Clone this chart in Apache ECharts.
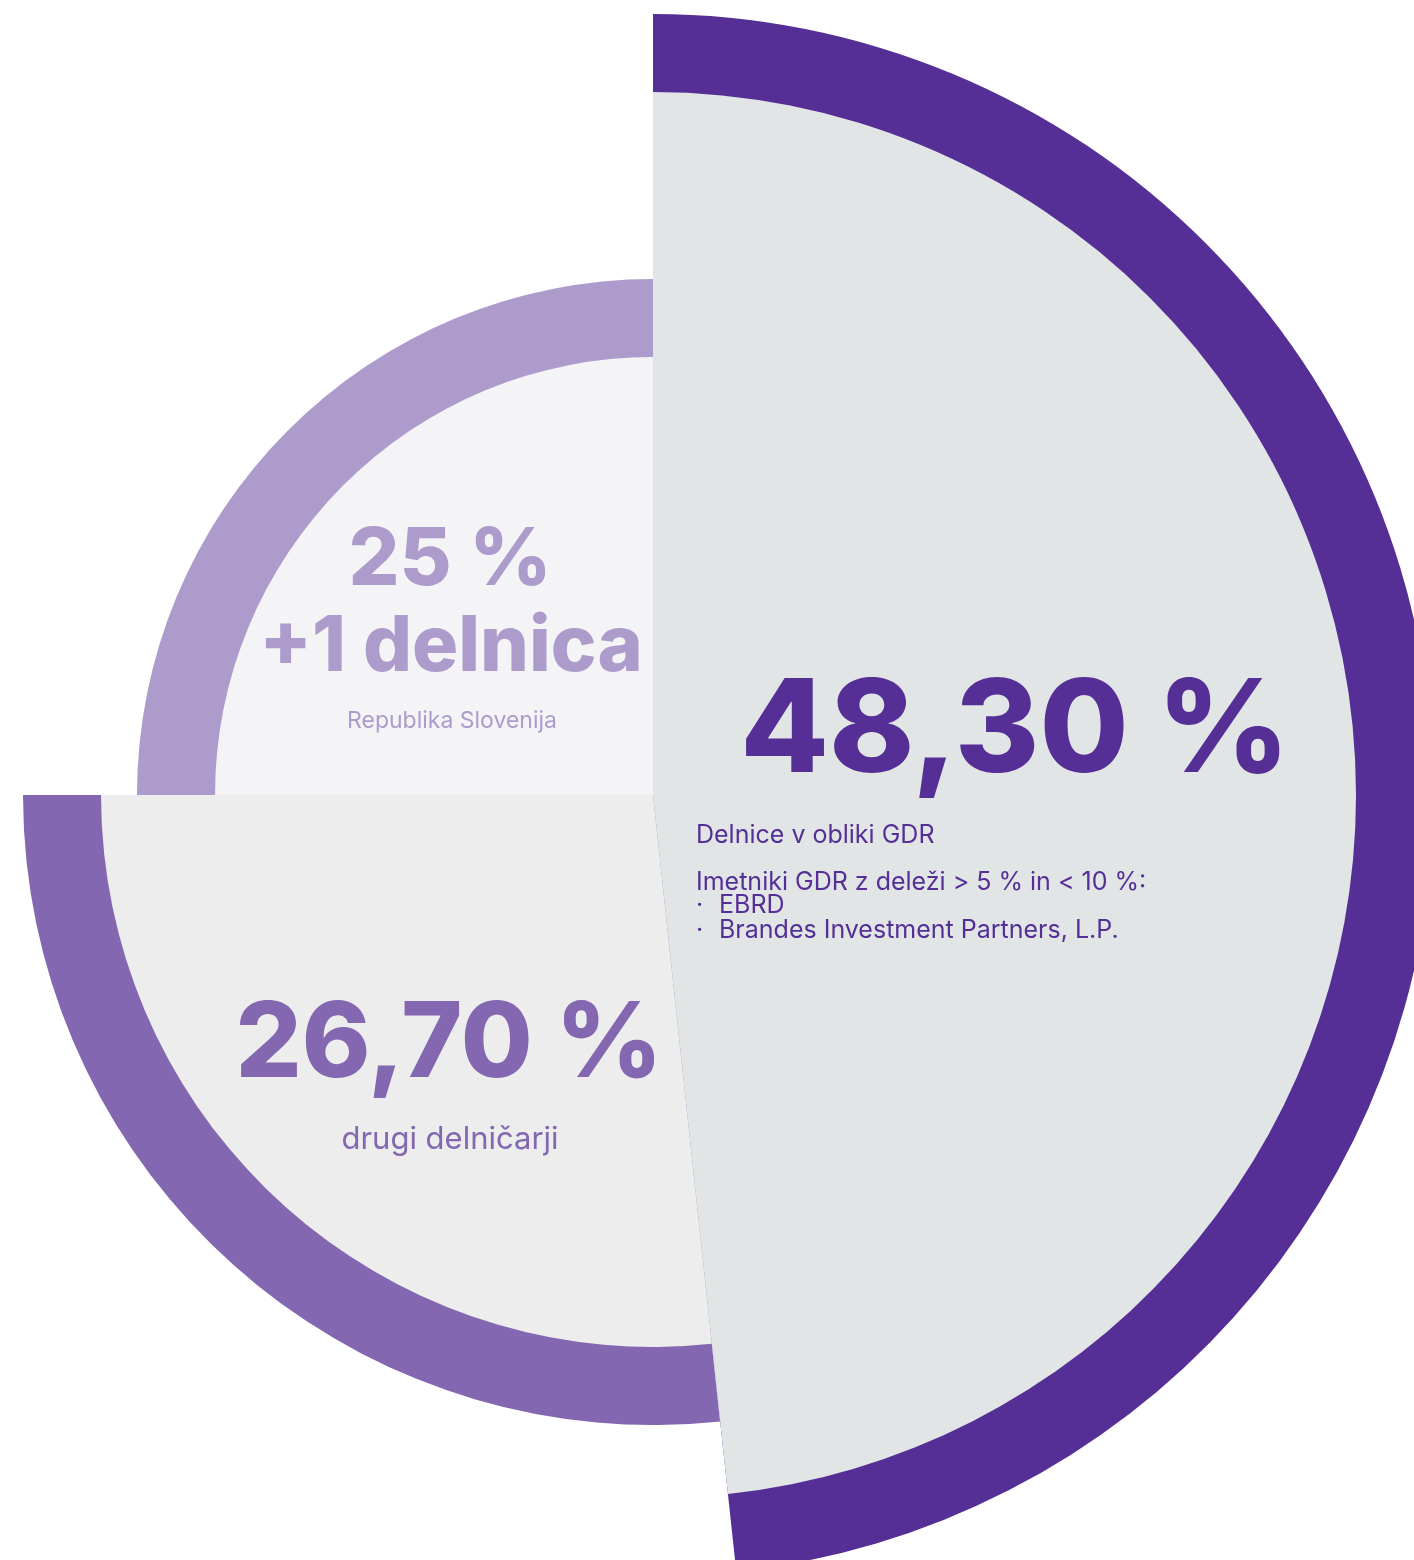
<!DOCTYPE html>
<html>
<head>
<meta charset="utf-8">
<script src="https://cdn.jsdelivr.net/npm/echarts@6/dist/echarts.min.js"></script>
<style>
  html, body { margin: 0; padding: 0; background: #fff; }
  #graf { width: 1414px; height: 1560px; }
</style>
</head>
<body>
<div id="graf"></div>
<script>
// podatki
const kategorije = ['Delnice v obliki GDR', 'drugi delničarji', 'Republika Slovenija'];
const delezi = [48.3, 26.7, 25];
const oznake = ['48,30 %', '26,70 %', '25 %'];

const barveObroc = ['#552F96', '#8367B0', '#AD9BCC'];
const barvePolnilo = ['#E1E5E6', '#EDEDED', '#F4F4F7'];
const polmeri = [781, 630, 516];
const debelina = 78;
const sredisce = [653, 795];
const pisava = 'Inter, "Open Sans", sans-serif';

// vsak kos je svoja pita, ostali kosi so prozorni, da koti ostanejo enaki
function pita(i, r, barva) {
    return {
        type: 'pie',
        center: sredisce,
        radius: [0, r],
        startAngle: 90,
        clockwise: true,
        silent: true,
        animation: false,
        label: { show: false },
        labelLine: { show: false },
        emphasis: { disabled: true },
        data: delezi.map((v, j) => ({
            name: kategorije[j],
            value: v,
            itemStyle: j === i
                ? { color: barva, borderWidth: 0 }
                : { color: 'rgba(0,0,0,0)', borderWidth: 0 }
        }))
    };
}

const serije = [];
delezi.forEach((v, i) => serije.push(pita(i, polmeri[i], barveObroc[i])));
delezi.forEach((v, i) => serije.push(pita(i, polmeri[i] - debelina, barvePolnilo[i])));

function besedilo(x, y, t, size, weight, barva, align) {
    return {
        type: 'text', x: x, y: y, z: 100,
        style: {
            text: t, fill: barva,
            font: weight + ' ' + size + 'px ' + pisava,
            textAlign: align || 'center', textVerticalAlign: 'middle'
        }
    };
}

const chart = echarts.init(document.getElementById('graf'), null, { renderer: 'canvas' });
chart.setOption({
    backgroundColor: '#ffffff',
    series: serije,
    graphic: [
        besedilo(1015, 733, oznake[0], 129, 800, barveObroc[0]),
        besedilo(696, 835, kategorije[0], 25, 400, barveObroc[0], 'left'),
        besedilo(696, 882, 'Imetniki GDR z deleži > 5 % in < 10 %:', 25, 400, barveObroc[0], 'left'),
        besedilo(696, 905, '·', 25, 400, barveObroc[0], 'left'),
        besedilo(719, 905, 'EBRD', 25, 400, barveObroc[0], 'left'),
        besedilo(696, 930, '·', 25, 400, barveObroc[0], 'left'),
        besedilo(719, 930, 'Brandes Investment Partners, L.P.', 25, 400, barveObroc[0], 'left'),
        besedilo(449, 1046, oznake[1], 104, 800, barveObroc[1]),
        besedilo(450, 1140, kategorije[1], 31, 400, barveObroc[1]),
        besedilo(450, 561, oznake[2], 80, 800, barveObroc[2]),
        besedilo(451, 648, '+1 delnica', 77, 800, barveObroc[2]),
        besedilo(452, 721, kategorije[2], 23, 400, barveObroc[2])
    ]
});
</script>
</body>
</html>
